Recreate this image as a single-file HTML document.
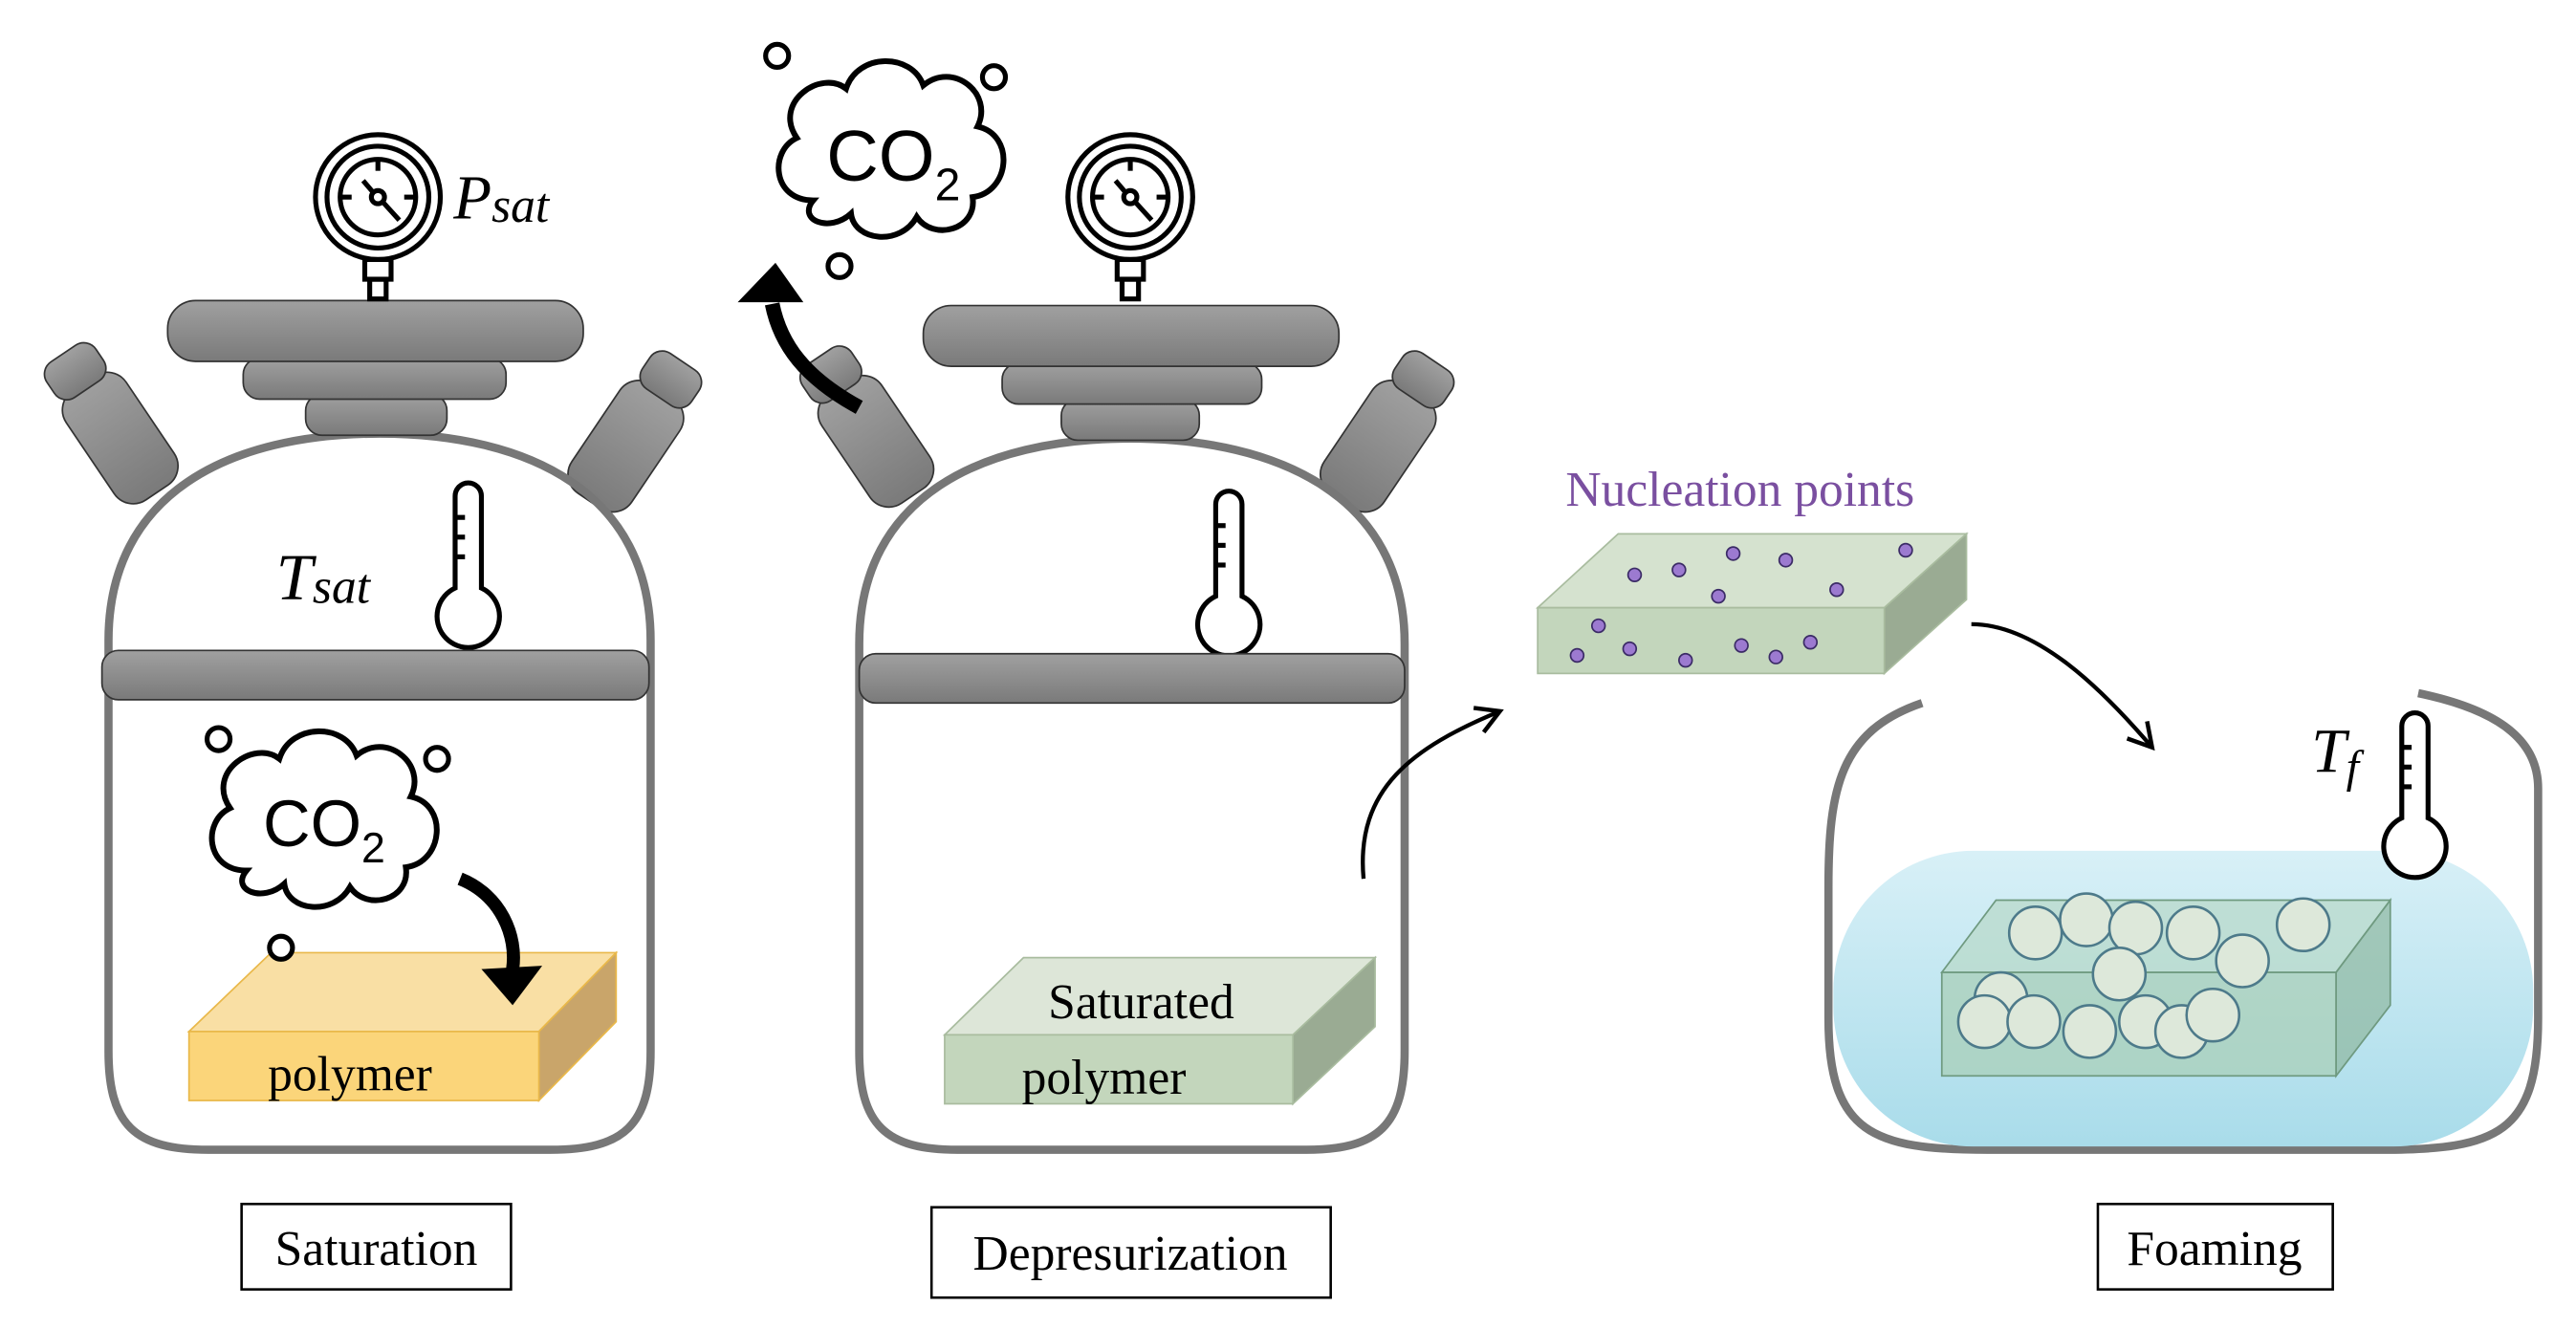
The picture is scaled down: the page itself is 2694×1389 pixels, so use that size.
<!DOCTYPE html>
<html><head><meta charset="utf-8"><style>
html,body{margin:0;padding:0;background:#fff;}
svg{display:block;}
text{font-family:"Liberation Serif",serif;}
</style></head><body>
<svg width="2694" height="1389" viewBox="0 0 1568 808.5" xmlns="http://www.w3.org/2000/svg">
<defs>
<linearGradient id="g" x1="0" y1="0" x2="0" y2="1"><stop offset="0" stop-color="#a0a0a0"/><stop offset="1" stop-color="#7a7a7a"/></linearGradient>
<linearGradient id="w" x1="0" y1="0" x2="0" y2="1"><stop offset="0" stop-color="#d8f0f7"/><stop offset="1" stop-color="#a9dcea"/></linearGradient>
<marker id="ah" viewBox="0 0 10 10" refX="8" refY="5" markerWidth="8" markerHeight="8" orient="auto"><path d="M1 1 L8 5 L1 9" fill="none" stroke="#000" stroke-width="1.3"/></marker>
<g id="gauge" fill="none" stroke="#000" stroke-width="3">
<circle r="38"/><circle r="31"/><circle r="23"/><circle r="4"/>
<line x1="3" y1="3" x2="13" y2="14"/><line x1="-3" y1="-3" x2="-9" y2="-10"/>
<line x1="-23" y1="0" x2="-16" y2="0"/><line x1="16" y1="0" x2="23" y2="0"/><line x1="0" y1="-23" x2="0" y2="-16"/>
<rect x="-8" y="38" width="16" height="12"/><rect x="-5" y="50" width="10" height="12"/>
</g>
<g id="thermo" fill="#fff" stroke="#000" stroke-width="3">
<path d="M-8 18 V-38 A8 8 0 0 1 8 -38 V18 A19 19 0 1 1 -8 18 Z"/>
<line x1="-8" y1="-25" x2="-2" y2="-25"/><line x1="-8" y1="-13" x2="-2" y2="-13"/><line x1="-8" y1="-1" x2="-2" y2="-1"/>
</g>
<g id="cloud" fill="#fff" stroke="#000" stroke-width="3.5">
<path d="M-45 30 C-70 30 -72 0 -55 -8 C-70 -30 -40 -50 -25 -38 C-18 -60 15 -60 22 -40 C40 -55 65 -35 55 -15 C78 -10 75 25 52 28 C55 48 28 55 18 40 C8 58 -20 55 -22 38 C-35 50 -55 42 -45 30 Z"/>
</g>
<g id="port"><rect x="-22" y="-38" width="44" height="80" rx="14" fill="url(#g)" stroke="#333" stroke-width="1"/><rect x="-18" y="-60" width="36" height="26" rx="9" fill="url(#g)" stroke="#333" stroke-width="1"/></g>
</defs>

<!-- LEFT VESSEL -->
<use href="#port" transform="translate(72,265) rotate(-34)"/>
<use href="#port" transform="translate(382,270) rotate(34)"/>
<path d="M66 640 V390 C66 300 140 264 231 264 C322 264 396 300 396 390 V640 C396 685 380 700 335 700 H127 C82 700 66 685 66 640 Z" fill="none" stroke="#777" stroke-width="5"/>
<rect x="186" y="240" width="86" height="25" rx="10" fill="url(#g)" stroke="#333"/>
<rect x="148" y="218" width="160" height="25" rx="10" fill="url(#g)" stroke="#333"/>
<rect x="102" y="183" width="253" height="37" rx="17" fill="url(#g)" stroke="#333"/>
<use href="#gauge" transform="translate(230,120)"/>
<text x="276" y="133" font-size="38" font-style="italic">P<tspan font-size="30" dy="2">sat</tspan></text>
<text x="168" y="365" font-size="40" font-style="italic">T<tspan font-size="30" dy="2">sat</tspan></text>
<use href="#thermo" transform="translate(285,340)"/>
<rect x="62" y="396" width="333" height="30" rx="10" fill="url(#g)" stroke="#333"/>
<use href="#cloud" transform="translate(195,500)"/>
<text x="160" y="515" font-size="40" style="font-family:'Liberation Sans',sans-serif">CO<tspan font-size="26" dy="10">2</tspan></text>
<circle cx="133" cy="450" r="7" fill="none" stroke="#000" stroke-width="3"/>
<circle cx="266" cy="462" r="7" fill="none" stroke="#000" stroke-width="3"/>
<path d="M115 628 L165 580 H375 L328 628 Z" fill="#f9dfa4" stroke="#e9b84a"/>
<path d="M328 628 L375 580 V622 L328 670 Z" fill="#c9a56a" stroke="#e9b84a"/>
<rect x="115" y="628" width="213" height="42" fill="#fbd57a" stroke="#e9b84a"/>
<circle cx="171" cy="577" r="7" fill="#fff" stroke="#000" stroke-width="3"/>
<path d="M280 535 C305 545 315 570 312 590" fill="none" stroke="#000" stroke-width="8"/>
<path d="M293 590 L312 612 L330 588 Z" fill="#000"/>
<text x="163" y="664" font-size="30">polymer</text>
<rect x="147" y="733" width="164" height="52" fill="#fff" stroke="#000" stroke-width="1.5"/>
<text x="229" y="770" font-size="30" text-anchor="middle">Saturation</text>

<!-- MIDDLE VESSEL -->
<use href="#port" transform="translate(532,267) rotate(-34)"/>
<use href="#port" transform="translate(840,270) rotate(34)"/>
<path d="M523 640 V392 C523 302 598 267 688 267 C778 267 855 302 855 392 V640 C855 685 839 700 795 700 H583 C539 700 523 685 523 640 Z" fill="none" stroke="#777" stroke-width="5"/>
<rect x="646" y="243" width="84" height="25" rx="10" fill="url(#g)" stroke="#333"/>
<rect x="610" y="221" width="158" height="25" rx="10" fill="url(#g)" stroke="#333"/>
<rect x="562" y="186" width="253" height="37" rx="17" fill="url(#g)" stroke="#333"/>
<use href="#gauge" transform="translate(688,120)"/>
<use href="#thermo" transform="translate(748,345)"/>
<rect x="523" y="398" width="332" height="30" rx="10" fill="url(#g)" stroke="#333"/>
<use href="#cloud" transform="translate(540,92)"/>
<text x="503" y="110" font-size="44" style="font-family:'Liberation Sans',sans-serif">CO<tspan font-size="28" dy="12">2</tspan></text>
<circle cx="473" cy="34" r="7" fill="none" stroke="#000" stroke-width="3"/>
<circle cx="605" cy="47" r="7" fill="none" stroke="#000" stroke-width="3"/>
<circle cx="511" cy="162" r="7" fill="none" stroke="#000" stroke-width="3"/>
<path d="M523 248 C490 230 475 210 470 185" fill="none" stroke="#000" stroke-width="9"/>
<path d="M449 184 L472 160 L489 184 Z" fill="#000"/>
<path d="M575 630 L623 583 H837 L787 630 Z" fill="#dde6d8" stroke="#a9bc9f"/>
<path d="M787 630 L837 583 V625 L787 672 Z" fill="#9aab93" stroke="#a9bc9f"/>
<rect x="575" y="630" width="212" height="42" fill="#c3d6bc" stroke="#a9bc9f"/>
<text x="638" y="620" font-size="30">Saturated</text>
<text x="622" y="666" font-size="30">polymer</text>
<rect x="567" y="735" width="243" height="55" fill="#fff" stroke="#000" stroke-width="1.5"/>
<text x="688" y="773" font-size="30" text-anchor="middle">Depresurization</text>
<path d="M830 535 C825 480 860 455 913 433" fill="none" stroke="#000" stroke-width="2.5" marker-end="url(#ah)"/>

<!-- NUCLEATION -->
<text x="953" y="308" font-size="30" fill="#7a4fa0">Nucleation points</text>
<path d="M936 370 L985 325 H1197 L1147 370 Z" fill="#d5e2cf" stroke="#a9bc9f"/>
<path d="M1147 370 L1197 325 V365 L1147 410 Z" fill="#9aab93" stroke="#a9bc9f"/>
<rect x="936" y="370" width="211" height="40" fill="#c3d6bc" stroke="#a9bc9f"/>
<g fill="#9c7ad0" stroke="#3b2b66" stroke-width="1">
<circle cx="995" cy="350" r="4"/><circle cx="1022" cy="347" r="4"/><circle cx="1055" cy="337" r="4"/><circle cx="1087" cy="341" r="4"/><circle cx="1160" cy="335" r="4"/><circle cx="1046" cy="363" r="4"/><circle cx="1118" cy="359" r="4"/>
<circle cx="973" cy="381" r="4"/><circle cx="960" cy="399" r="4"/><circle cx="992" cy="395" r="4"/><circle cx="1026" cy="402" r="4"/><circle cx="1060" cy="393" r="4"/><circle cx="1081" cy="400" r="4"/><circle cx="1102" cy="391" r="4"/>
</g>
<path d="M1200 380 C1240 380 1280 420 1310 455" fill="none" stroke="#000" stroke-width="2.5" marker-end="url(#ah)"/>

<!-- FOAMING -->
<path d="M1170 428 C1120 445 1113 480 1113 540 V620 C1113 690 1140 700 1210 700 H1450 C1520 700 1545 690 1545 620 V480 C1545 450 1520 432 1472 422" fill="none" stroke="#777" stroke-width="5"/>
<rect x="1116" y="518" width="426" height="180" rx="85" fill="url(#w)"/>
<path d="M1182 592 L1215 548 H1455 L1422 592 Z" fill="#b8d9c8" fill-opacity="0.7" stroke="#6f9a80"/>
<path d="M1422 592 L1455 548 V612 L1422 655 Z" fill="#8fb8a0" fill-opacity="0.7" stroke="#6f9a80"/>
<rect x="1182" y="592" width="240" height="63" fill="#a9cfb8" fill-opacity="0.75" stroke="#6f9a80"/>
<g fill="#dde8da" stroke="#4d7a8a" stroke-width="1.5">
<circle cx="1239" cy="568" r="16"/><circle cx="1270" cy="560" r="16"/><circle cx="1300" cy="565" r="16"/><circle cx="1335" cy="568" r="16"/><circle cx="1365" cy="585" r="16"/><circle cx="1402" cy="563" r="16"/>
<circle cx="1218" cy="608" r="16"/><circle cx="1290" cy="593" r="16"/><circle cx="1208" cy="622" r="16"/><circle cx="1238" cy="622" r="16"/><circle cx="1272" cy="628" r="16"/><circle cx="1306" cy="622" r="16"/><circle cx="1328" cy="628" r="16"/><circle cx="1347" cy="618" r="16"/>
</g>
<text x="1407" y="470" font-size="38" font-style="italic">T<tspan font-size="28" dy="6">f</tspan></text>
<use href="#thermo" transform="translate(1470,480)"/>
<rect x="1277" y="733" width="143" height="52" fill="#fff" stroke="#000" stroke-width="1.5"/>
<text x="1348" y="770" font-size="30" text-anchor="middle">Foaming</text>
</svg>
</body></html>
